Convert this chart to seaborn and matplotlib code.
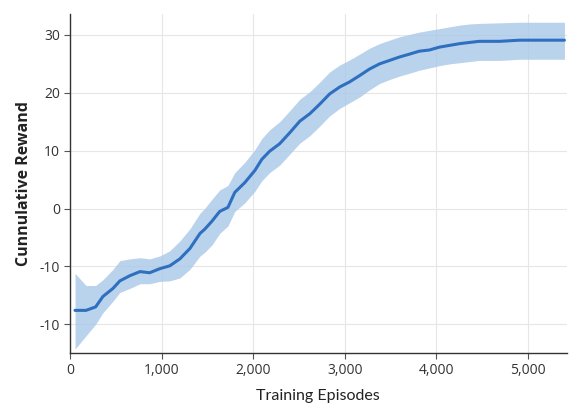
import numpy as np
import pandas as pd
import matplotlib
matplotlib.use("Agg")
import matplotlib.pyplot as plt
import seaborn as sns

episodes = [55, 175, 280, 360, 470, 545, 655, 765, 870, 980, 1090, 1200, 1310, 1420, 1470,
            1550, 1635, 1725, 1800, 1910, 2020, 2095, 2180, 2290, 2400, 2510, 2620, 2725,
            2835, 2945, 3055, 3165, 3270, 3380, 3490, 3600, 3710, 3815, 3925, 4035, 4145,
            4255, 4360, 4470, 4690, 4910, 5125, 5400]
mean_reward = [-17.6, -17.6, -17.0, -15.2, -13.8, -12.5, -11.6, -10.9, -11.1, -10.4, -9.9,
               -8.7, -6.9, -4.3, -3.6, -2.2, -0.5, 0.2, 2.8, 4.5, 6.6, 8.5, 9.9, 11.2, 13.1,
               15.1, 16.4, 18.0, 19.8, 21.0, 21.9, 23.0, 24.1, 25.0, 25.6, 26.2, 26.7, 27.2,
               27.4, 27.9, 28.2, 28.5, 28.7, 28.9, 28.9, 29.1, 29.1, 29.1]
lower_band = [-24.3, -22.0, -20.0, -18.0, -16.0, -14.5, -13.8, -13.0, -13.0, -12.6, -12.5,
              -12.0, -10.5, -8.2, -7.6, -6.3, -4.3, -3.0, -0.5, 1.0, 3.0, 4.8, 6.2, 7.5, 9.4,
              11.3, 12.6, 14.2, 16.0, 17.3, 18.3, 19.3, 20.5, 21.6, 22.3, 22.9, 23.4, 23.9,
              24.3, 24.7, 25.0, 25.2, 25.4, 25.6, 25.6, 25.8, 25.8, 25.8]
upper_band = [-11.2, -13.3, -13.3, -12.3, -10.5, -9.0, -8.7, -8.5, -8.7, -8.2, -7.3,
              -5.6, -3.5, -0.8, 0.0, 1.6, 3.2, 4.0, 6.2, 8.0, 10.2, 12.1, 13.6, 15.0, 16.9,
              18.9, 20.2, 21.8, 23.6, 24.8, 25.7, 26.7, 27.7, 28.5, 29.1, 29.7, 30.1, 30.5,
              30.8, 31.1, 31.4, 31.7, 31.9, 32.0, 32.1, 32.2, 32.2, 32.2]
ytick_values = [-20, -10, 0, 10, 20, 30]
ytick_labels = ["-10", "-10", "0", "10", "20", "30"]
xtick_values = [0, 1000, 2000, 3000, 4000, 5000]
xtick_labels = ["0", "1,000", "2,000", "3,000", "4,000", "5,000"]

df = pd.DataFrame({"Episode": episodes, "Reward": mean_reward,
                   "Low": lower_band, "High": upper_band})

sns.set_theme(style="white")
plt.rcParams['font.family'] = ['Open Sans', 'DejaVu Sans']

fig = plt.figure(figsize=(5.69, 4.16), dpi=100)
ax = fig.add_axes([0.123, 0.151, 0.873, 0.815])

ax.fill_between(df["Episode"], df["Low"], df["High"], color="#a9c8e8", alpha=0.8,
                linewidth=0, zorder=2)
sns.lineplot(data=df, x="Episode", y="Reward", ax=ax, color="#2f6fbf", linewidth=2.2,
             zorder=3)

ax.set_xlim(0, 5425)
ax.set_ylim(-25, 33.6)
ax.set_xticks(xtick_values)
ax.set_xticklabels(xtick_labels)
ax.set_yticks(ytick_values)
ax.set_yticklabels(ytick_labels)
ax.grid(True, color="#e6e6e6", linewidth=0.8, zorder=0)
ax.set_axisbelow(True)

for s in ["top", "right"]:
    ax.spines[s].set_visible(False)
for s in ["left", "bottom"]:
    ax.spines[s].set_color("#333333")
    ax.spines[s].set_linewidth(1.0)

ax.tick_params(axis="both", which="both", direction="out", length=4, width=0.8,
               color="#555555", labelsize=10, labelcolor="#333333", pad=3,
               left=True, bottom=True)

ax.set_xlabel("Training Episodes", fontsize=11.5, family=["Lato", "DejaVu Sans"],
              color="#222222", labelpad=8)
ax.set_ylabel("Cunnulative Rewand", fontsize=11.5, fontweight="bold", color="#222222",
              labelpad=6)

fig.savefig("out.png", dpi=100)
